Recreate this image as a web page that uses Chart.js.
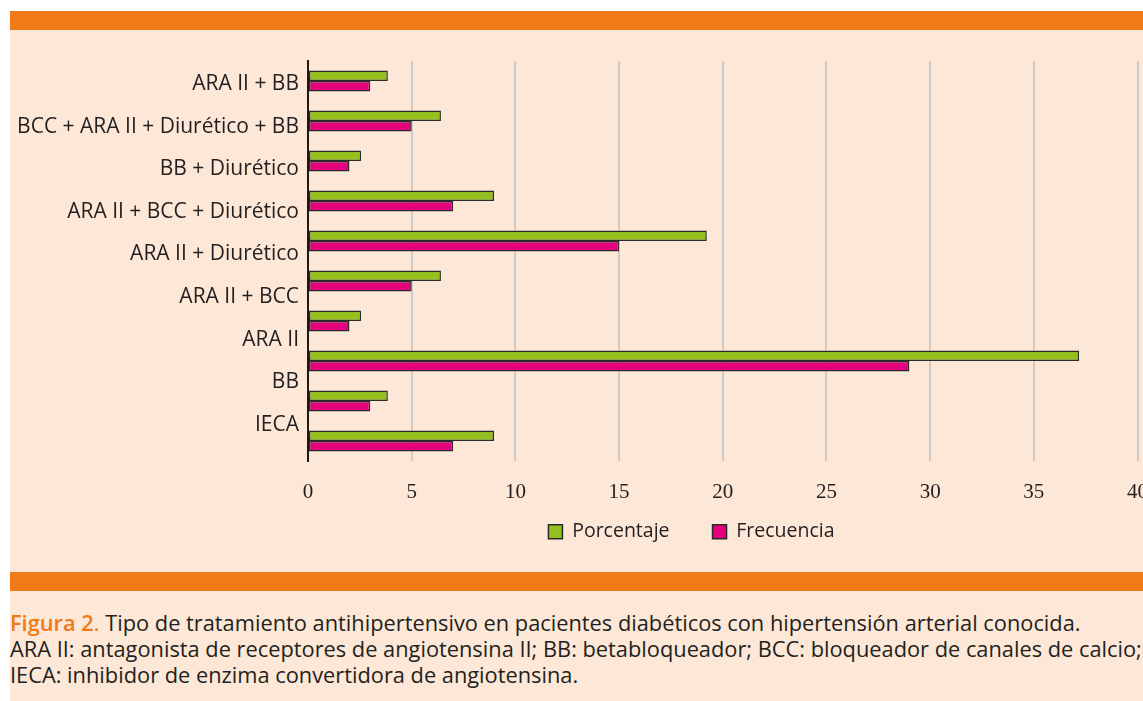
<!DOCTYPE html>
<html>
<head>
<meta charset="utf-8">
<script src="https://cdn.jsdelivr.net/npm/chart.js@4.4.1/dist/chart.umd.min.js"></script>
<style>
  html, body { margin: 0; padding: 0; background: #fff; width: 1143px; height: 701px; overflow: hidden; font-family: "Open Sans", sans-serif; }
  #panel { position: absolute; left: 10px; top: 11px; width: 1140px; height: 700px; background: #fde7d6; }
  .band { position: absolute; left: 0; width: 1140px; height: 19px; background: #f07a17; }
  #chartBox { position: absolute; left: 0; top: 19px; width: 1157px; height: 542px; }
  #caption { position: absolute; left: 0; top: 599px; font-size: 21.8px; line-height: 26px; color: #231f20; white-space: nowrap; }
  #caption .fig { color: #f07a17; font-weight: 600; }
  #caption .dot { color: #f07a17; }
</style>
</head>
<body>
<div id="panel">
  <div class="band" style="top:0"></div>
  <div id="chartBox"><canvas id="chart"></canvas></div>
  <div class="band" style="top:561px"></div>
  <div id="caption">
    <span class="fig">Figura 2</span><span class="dot">.</span> Tipo de tratamiento antihipertensivo en pacientes diabéticos con hipertensión arterial conocida.<br>
    ARA II: antagonista de receptores de angiotensina II; BB: betabloqueador; BCC: bloqueador de canales de calcio;<br>
    IECA: inhibidor de enzima convertidora de angiotensina.
  </div>
</div>
<script>
// labels printed on the left axis (top to bottom)
const axisLabels = ['ARA II + BB', 'BCC + ARA II + Diurético + BB', 'BB + Diurético', 'ARA II + BCC + Diurético',
  'ARA II + Diurético', 'ARA II + BCC', 'ARA II', 'BB', 'IECA'];
// the figure draws ten bar pairs against nine labels; last pair has no label
const barGroups = [...axisLabels, ''];

const porcentaje = [3.85, 6.41, 2.56, 8.97, 19.23, 6.41, 2.56, 37.18, 3.85, 8.97];
const frecuencia = [3, 5, 2, 7, 15, 5, 2, 29, 3, 7];

const xTicks = [0, 5, 10, 15, 20, 25, 30, 35, 40];

const TEXT = '#231f20';
const SANS = 'Open Sans';
const LEGEND_DX = 103;
const LEGEND_DY = -26;

// move the legend so it sits under the plot like in the figure
const legendShift = {
  id: 'legendShift',
  afterLayout(chart) {
    const lg = chart.legend;
    lg.left += LEGEND_DX; lg.right += LEGEND_DX;
    lg.top += LEGEND_DY;
  }
};

function barSet(label, data, color) {
  return {
    label: label,
    data: data,
    backgroundColor: color,
    borderColor: '#2a2a2a',
    borderWidth: 1.5,
    borderSkipped: false,
    categoryPercentage: 0.525,
    barPercentage: 1,
    xAxisID: 'x',
    yAxisID: 'y'
  };
}

new Chart(document.getElementById('chart').getContext('2d'), {
  type: 'bar',
  data: {
    labels: barGroups,
    datasets: [
      barSet('Porcentaje', porcentaje, '#93c01f'),
      barSet('Frecuencia', frecuencia, '#e5007d')
    ]
  },
  options: {
    indexAxis: 'y',
    responsive: true,
    maintainAspectRatio: false,
    animation: false,
    layout: { padding: { top: 31, right: 0, bottom: 27, left: 0 } },
    scales: {
      x: {
        type: 'linear',
        min: xTicks[0],
        max: xTicks[xTicks.length - 1],
        afterBuildTicks: s => { s.ticks = xTicks.map(v => ({ value: v })); },
        afterFit: s => { s.height = 44; },
        ticks: { color: TEXT, font: { family: 'Liberation Serif', size: 21 }, padding: 19 },
        grid: {
          drawTicks: false,
          lineWidth: 2,
          color: ctx => ctx.tick && ctx.tick.value === 0 ? 'rgba(0,0,0,0)' : '#cfcac6'
        },
        border: { display: false }
      },
      y: {
        type: 'category',
        display: false
      },
      yLabels: {
        type: 'linear',
        position: 'left',
        reverse: true,
        offset: false,
        min: -0.54,
        max: 8.85,
        afterBuildTicks: s => {
          s.ticks = axisLabels.map((l, i) => ({ value: i }));
          s.min = -0.54;
          s.max = 8.85;
        },
        afterFit: s => { s.width = 298; },
        ticks: {
          color: TEXT,
          font: { family: SANS, size: 21 },
          padding: 9,
          autoSkip: false,
          callback: v => axisLabels[v]
        },
        grid: { display: false, drawTicks: false, offset: false },
        border: { display: true, color: '#1a1a1a', width: 2 }
      }
    },
    plugins: {
      legend: {
        position: 'bottom',
        maxHeight: 40,
        labels: {
          color: TEXT,
          font: { family: SANS, size: 19.5 },
          boxWidth: 14,
          boxHeight: 14,
          padding: 43
        }
      },
      tooltip: { enabled: false }
    }
  },
  plugins: [legendShift]
});
</script>
</body>
</html>
